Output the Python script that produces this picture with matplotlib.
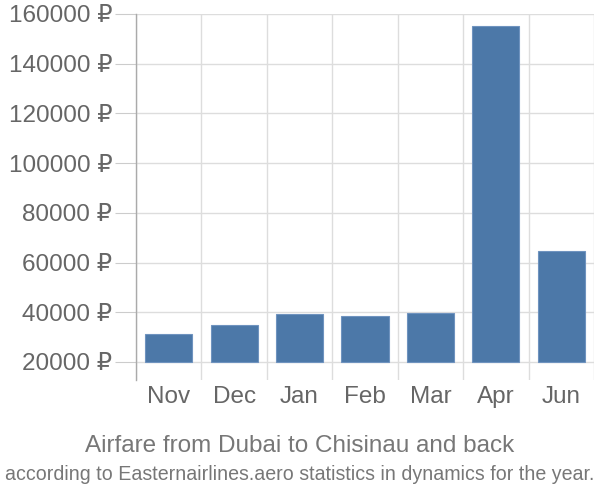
import matplotlib
matplotlib.use("Agg")
import matplotlib.pyplot as plt
import numpy as np

months = ["Nov", "Dec", "Jan", "Feb", "Mar", "Apr", "Jun"]
prices = [31400, 35000, 39400, 38600, 39600, 155000, 64700]
y_ticks = [20000, 40000, 60000, 80000, 100000, 120000, 140000, 160000]
baseline = 20000

plt.rcParams["font.family"] = ["Liberation Sans", "DejaVu Sans"]

fig = plt.figure(figsize=(6, 5), dpi=100)
ax = fig.add_axes([136 / 600, 1 - 380 / 500, 458 / 600, 366 / 500])

x = np.arange(len(months))
heights = [p - baseline for p in prices]
ax.bar(x, heights, width=0.72, bottom=baseline, color="#4c78a8",
       edgecolor="#6f93bf", linewidth=0.8, zorder=3)

ax.set_xlim(-0.5, len(months) - 0.5)
ax.set_ylim(12750, 160000)

# vertical grid at category boundaries
for b in np.arange(-0.5, len(months), 1.0):
    ax.axvline(b, color="#dddddd", linewidth=1, zorder=1)
for t in y_ticks:
    ax.axhline(t, color="#dddddd", linewidth=1, zorder=1)

ax.set_yticks(y_ticks)
ax.set_yticklabels([f"{t} ₽" for t in y_ticks])
ax.set_xticks(x)
ax.set_xticklabels(months)
ax.tick_params(axis="y", length=15, color="#cccccc", labelcolor="#666666",
               labelsize=17.5, pad=2)
ax.tick_params(axis="x", length=0, labelcolor="#666666", labelsize=17.5, pad=4)

for s in ["top", "right", "bottom"]:
    ax.spines[s].set_visible(False)
ax.spines["left"].set_color("#aaaaaa")
ax.spines["left"].set_linewidth(1)

fig.text(0.5, 1 - 446 / 500, "Airfare from Dubai to Chisinau and back",
         ha="center", va="center", fontsize=17.5, color="#777777")
fig.text(0.5, 1 - 475 / 500,
         "according to Easternairlines.aero statistics in dynamics for the year.",
         ha="center", va="center", fontsize=14.1, color="#777777")

fig.savefig("out.png", dpi=100)
